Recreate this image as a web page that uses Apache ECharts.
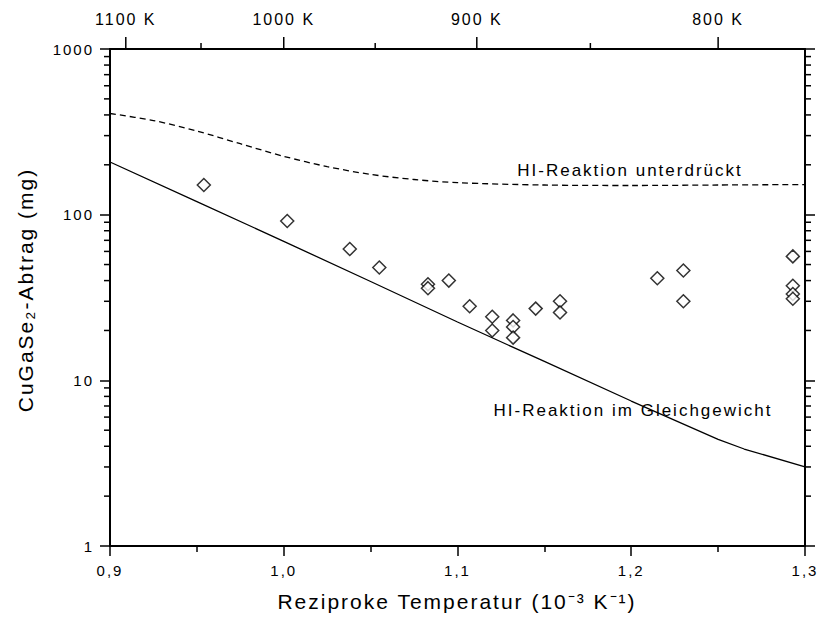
<!DOCTYPE html>
<html>
<head>
<meta charset="utf-8">
<style>
html,body{margin:0;padding:0;background:#fff;}
#c{width:822px;height:635px;}
#c text{letter-spacing:2px;}
</style>
<script src="https://cdn.jsdelivr.net/npm/echarts@6/dist/echarts.min.js"></script>
</head>
<body>
<div id="c"></div>
<script>
// ---- data ----
const pointX = [0.954, 1.002, 1.038, 1.055, 1.083, 1.083, 1.095, 1.107, 1.120, 1.120, 1.132, 1.132, 1.132, 1.145, 1.159, 1.159, 1.215, 1.230, 1.230, 1.293, 1.293, 1.293, 1.293];
const pointY = [151, 91.5, 62, 48, 38, 36, 40, 28, 24.2, 20, 23, 21, 18.1, 27.1, 30, 25.7, 41.3, 46, 30, 56, 37.2, 33.2, 31.1];

const eqX = [0.9, 0.95, 1.0, 1.05, 1.1, 1.15, 1.2, 1.25, 1.265, 1.3];
const eqY = [208, 120, 69, 39.5, 22.5, 13, 7.5, 4.4, 3.85, 3.0];

const supX = [0.9, 0.925, 0.95, 0.975, 1.0, 1.025, 1.05, 1.075, 1.1, 1.15, 1.2, 1.25, 1.3];
const supY = [408, 370, 320, 268, 225, 195, 175, 163, 156, 151, 150, 151, 152];

const yTickLabels = ['1', '10', '100', '1000'];
const yMinorTicks = [2,3,4,5,6,7,8,9,20,30,40,50,60,70,80,90,200,300,400,500,600,700,800,900];

const tempMajor = [1100, 1000, 900, 800];
const tempMajorLabels = ['1100 K', '1000 K', '900 K', '800 K'];
const tempMinor = [1050, 950, 850];

const xTitle = 'Reziproke Temperatur (10\u207B\u00B3 K\u207B\u00B9)';
const yTitle = 'CuGaSe\u2082-Abtrag (mg)';
const labelSuppressed = 'HI-Reaktion unterdrückt';
const labelEquilibrium = 'HI-Reaktion im Gleichgewicht';

// ---- chart ----
const FONT = '"Liberation Sans", Arial, Helvetica, sans-serif';
const X_MIN = 0.9, X_MAX = 1.3, Y_MIN = 1, Y_MAX = 1000;
const axisLine = { show: true, lineStyle: { color: '#000', width: 2 } };
const tickStyle = { color: '#000', width: 1.5 };

const chart = echarts.init(document.getElementById('c'), null, { renderer: 'svg' });

const topTickData = tempMajor.map((T, i) => [1000 / T, Y_MAX, 1, i])
  .concat(tempMinor.map(T => [1000 / T, Y_MAX, 0, -1]));

const option = {
  animation: false,
  backgroundColor: '#fff',
  grid: { left: 110, right: 17, top: 49, bottom: 89 },
  xAxis: [
    {
      type: 'value', min: X_MIN, max: X_MAX, interval: 0.1, position: 'bottom',
      axisLine: axisLine,
      axisTick: { show: true, inside: false, length: 10, lineStyle: tickStyle },
      minorTick: { show: true, splitNumber: 2, length: 6, lineStyle: tickStyle },
      splitLine: { show: false },
      axisLabel: {
        margin: 17, color: '#000', fontFamily: FONT, fontSize: 15,
        formatter: v => v.toFixed(1).replace('.', ',')
      }
    },
    {
      type: 'value', min: X_MIN, max: X_MAX, position: 'top',
      axisLine: axisLine, axisTick: { show: false }, axisLabel: { show: false },
      splitLine: { show: false }
    }
  ],
  yAxis: [
    {
      type: 'log', logBase: 10, min: Y_MIN, max: Y_MAX, position: 'left',
      axisLine: axisLine,
      axisTick: { show: true, inside: false, length: 10, lineStyle: tickStyle },
      splitLine: { show: false },
      axisLabel: {
        margin: 16, color: '#000', fontFamily: FONT, fontSize: 15,
        formatter: v => yTickLabels[Math.round(Math.log10(v))]
      }
    },
    {
      type: 'log', logBase: 10, min: Y_MIN, max: Y_MAX, position: 'right',
      axisLine: axisLine,
      axisTick: { show: true, inside: false, length: 10, lineStyle: tickStyle },
      splitLine: { show: false },
      axisLabel: { show: false }
    }
  ],
  series: [
    {
      type: 'line', data: supX.map((x, i) => [x, supY[i]]),
      smooth: 0.3, symbol: 'none', clip: true,
      lineStyle: { color: '#000', width: 1.3, type: [6, 4] }
    },
    {
      type: 'line', data: eqX.map((x, i) => [x, eqY[i]]),
      smooth: false, symbol: 'none', clip: true,
      lineStyle: { color: '#000', width: 1.3 }
    },
    {
      type: 'scatter', data: pointX.map((x, i) => [x, pointY[i]]),
      symbol: 'diamond', symbolSize: 13, z: 5,
      itemStyle: { color: '#fff', borderColor: '#000', borderWidth: 1.5 }
    },
    {
      type: 'custom', clip: false, silent: true,
      data: yMinorTicks.map(v => [X_MIN, v]),
      renderItem: (params, api) => {
        const v = api.value(1);
        const pl = api.coord([X_MIN, v]);
        const pr = api.coord([X_MAX, v]);
        return {
          type: 'group',
          children: [
            { type: 'line', shape: { x1: pl[0] - 6, y1: pl[1], x2: pl[0], y2: pl[1] }, style: { stroke: '#000', lineWidth: 1.5 } },
            { type: 'line', shape: { x1: pr[0], y1: pr[1], x2: pr[0] + 6, y2: pr[1] }, style: { stroke: '#000', lineWidth: 1.5 } }
          ]
        };
      }
    },
    {
      type: 'custom', clip: false, silent: true,
      data: topTickData,
      renderItem: (params, api) => {
        const x = api.value(0);
        const major = api.value(2) === 1;
        const li = api.value(3);
        const p = api.coord([x, Y_MAX]);
        const len = major ? 12 : 6;
        const children = [
          { type: 'line', shape: { x1: p[0], y1: p[1], x2: p[0], y2: p[1] - len }, style: { stroke: '#000', lineWidth: 1.5 } }
        ];
        if (major) {
          children.push({
            type: 'text',
            style: {
              text: tempMajorLabels[li], x: p[0], y: p[1] - 30,
              align: 'center', verticalAlign: 'middle',
              font: '16px ' + FONT, fill: '#000'
            }
          });
        }
        return { type: 'group', children };
      }
    }
  ],
  graphic: [
    {
      type: 'text', x: 457, y: 601,
      style: { text: xTitle, align: 'center', verticalAlign: 'middle', font: '21px ' + FONT, fill: '#000' }
    },
    {
      type: 'text', x: 25, y: 290, rotation: Math.PI / 2,
      style: { text: yTitle, align: 'center', verticalAlign: 'middle', font: '21px ' + FONT, fill: '#000' }
    },
    {
      type: 'text', x: 630, y: 170,
      style: { text: labelSuppressed, align: 'center', verticalAlign: 'middle', font: '17px ' + FONT, fill: '#000' }
    },
    {
      type: 'text', x: 633, y: 410,
      style: { text: labelEquilibrium, align: 'center', verticalAlign: 'middle', font: '17px ' + FONT, fill: '#000' }
    }
  ]
};

chart.setOption(option);
</script>
</body>
</html>
